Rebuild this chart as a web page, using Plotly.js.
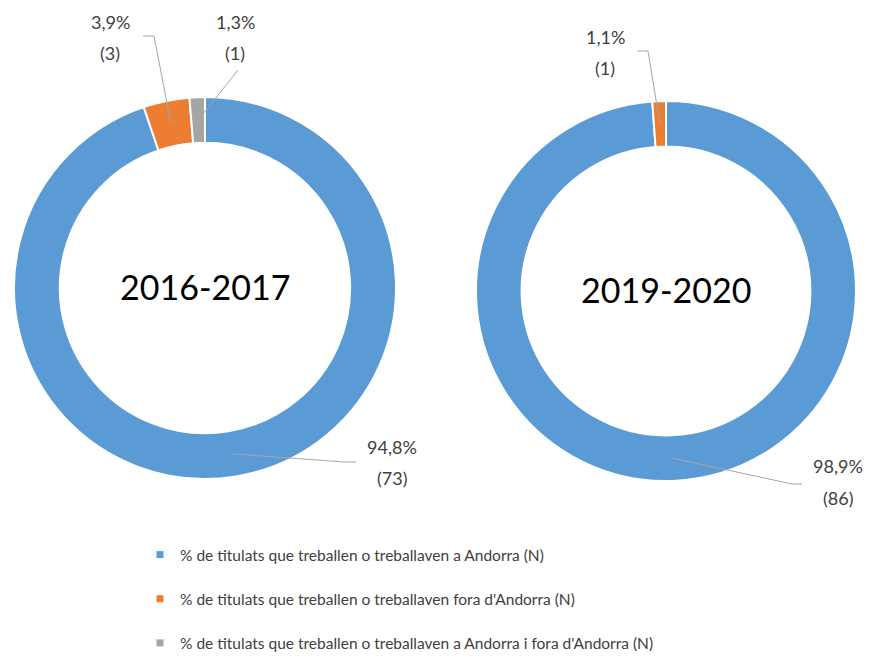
<!DOCTYPE html>
<html><head><meta charset="utf-8">
<script src="https://cdn.plot.ly/plotly-3.0.1.min.js"></script>
<style>html,body{margin:0;padding:0;background:#fff}#chart{width:876px;height:661px}</style>
</head><body><div id="chart"></div>
<script>
// ---- data ----
const categories = [
  "% de titulats que treballen o treballaven a Andorra (N)",
  "% de titulats que treballen o treballaven fora d'Andorra (N)",
  "% de titulats que treballen o treballaven a Andorra i fora d'Andorra (N)"
];
const periods = ["2016-2017", "2019-2020"];
const counts2016 = [73, 3, 1];
const counts2019 = [86, 1, 0];
const colors = ["#5B9BD5", "#ED7D31", "#A5A5A5"];

// ---- layout geometry (pixels) ----
const W = 876, H = 661;
const HOLE = 0.76;
const FONT = "Lato, 'Open Sans', sans-serif";
const TXT = "#404040";
const pies = [
  {period: periods[0], counts: counts2016, cx: 205, cy: 288, r: 191,
   labels: [ {x: 392, y1: 447, y2: 478, path: [[356, 462], [344, 462]]},
             {x: 110, y1: 22,  y2: 53,  path: [[143, 36], [154, 36]]},
             {x: 235, y1: 22,  y2: 53,  path: [[238, 70]]} ]},
  {period: periods[1], counts: counts2019, cx: 666, cy: 291, r: 190,
   labels: [ {x: 838, y1: 466, y2: 498, path: [[802, 484], [792, 484]]},
             {x: 605, y1: 37,  y2: 68,  path: [[637, 51], [648, 51]]},
             null ]}
];
const px = x => x / W;
const py = y => 1 - y / H;

const fmtPct = v => v.toFixed(1).replace('.', ',') + '%';

const traces = [];
const annotations = [];
const shapes = [];

function addText(x, y, text, size, color) {
  annotations.push({x: px(x), y: py(y), xref: 'paper', yref: 'paper', showarrow: false,
    xanchor: 'center', yanchor: 'middle', text: text,
    font: {family: FONT, size: size, color: color}});
}

pies.forEach(p => {
  traces.push({
    type: 'pie', values: p.counts, labels: categories, sort: false,
    direction: 'clockwise', rotation: 0, hole: HOLE,
    marker: {colors: colors, line: {color: '#ffffff', width: 2}},
    textinfo: 'none', hoverinfo: 'label+value+percent', showlegend: false,
    domain: {x: [px(p.cx - p.r), px(p.cx + p.r)], y: [py(p.cy + p.r), py(p.cy - p.r)]}
  });
  addText(p.cx, p.cy - 2, p.period, 34, '#000000');
  const total = p.counts.reduce((a, b) => a + b, 0);
  let cum = 0;
  p.counts.forEach((c, i) => {
    const frac = c / total;
    const mid = cum + frac / 2;
    cum += frac;
    const lab = p.labels[i];
    if (!lab || c === 0) return;
    addText(lab.x, lab.y1, fmtPct(frac * 100), 18, TXT);
    addText(lab.x, lab.y2, '(' + c + ')', 18, TXT);
    // leader line to the middle of the ring at the slice mid-angle
    const ang = mid * 2 * Math.PI;
    const rm = p.r * (1 + HOLE) / 2;
    const ex = p.cx + Math.sin(ang) * rm, ey = p.cy - Math.cos(ang) * rm;
    const pts = lab.path.concat([[ex, ey]]);
    const d = pts.map((q, k) => (k ? 'L' : 'M') + px(q[0]).toFixed(5) + ',' + py(q[1]).toFixed(5)).join(' ');
    shapes.push({type: 'path', xref: 'paper', yref: 'paper', path: d,
      line: {color: '#A6A6A6', width: 1}});
  });
});

// legend entries
categories.forEach((cat, i) => {
  traces.push({type: 'scatter', mode: 'markers', x: [null], y: [null], name: cat,
    legendgroup: 'g' + i, marker: {symbol: 'square', size: 7, color: colors[i]},
    hoverinfo: 'skip'});
});

const layout = {
  width: W, height: H, margin: {l: 0, r: 0, t: 0, b: 0},
  paper_bgcolor: '#ffffff', plot_bgcolor: '#ffffff',
  font: {family: FONT, color: TXT},
  xaxis: {visible: false}, yaxis: {visible: false},
  showlegend: true,
  legend: {x: px(140), y: py(538), xanchor: 'left', yanchor: 'top',
    traceorder: 'grouped', tracegroupgap: 21, itemwidth: 30,
    font: {family: FONT, size: 15.5, color: TXT}, bgcolor: 'rgba(0,0,0,0)'},
  annotations: annotations, shapes: shapes
};

Plotly.newPlot('chart', traces, layout, {displayModeBar: false, staticPlot: true});
</script>
</body></html>
